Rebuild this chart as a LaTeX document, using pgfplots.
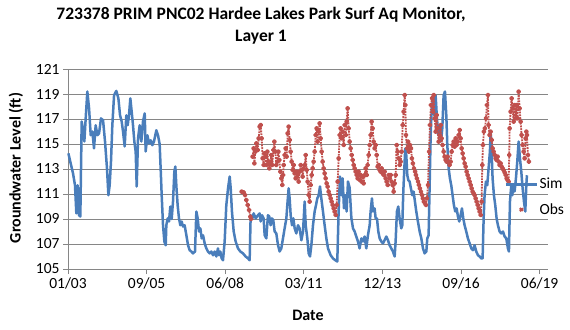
\documentclass[border=0pt]{standalone}
\usepackage{fontspec}
\setmainfont{Carlito}
\usepackage{pgfplots}
\usepackage{pgfplotstable}
\pgfplotsset{compat=1.18}
\definecolor{simblue}{HTML}{4A7EBB}
\definecolor{obsred}{HTML}{C0504D}
\definecolor{gridgray}{HTML}{868686}
\pgfplotsset{
  simlegend/.style={legend image code/.code={\draw[##1] (0bp,0bp) -- (31bp,0bp);}},
  obslegend/.style={legend image code/.code={\fill[obsred] (15.5bp,0bp) circle (1.8bp);}},
}

% days since 01/01/2003, groundwater level (ft)
\pgfplotstableread{
day level
5 114.25
34 113.45
64 112.65
89 111.7
106 109.45
123 111.7
140 109.3
157 109.2
174 116.8
196 116
208 115.2
225 117.05
246 119.2
268 117.85
289 115.7
310 116
331 114.65
352 116.5
374 115.7
395 115.85
420 117.05
446 116.9
471 115.2
496 113.05
514 110.9
530 111.7
547 113.6
564 116.5
586 118.9
615 119.25
641 118.65
662 117.3
683 116.8
700 116
721 114.8
742 117.3
759 116.5
776 117.3
793 118.65
810 117.6
827 116.5
844 115.2
861 114.4
874 111.6
891 115.45
912 116.5
933 115.2
954 116.8
976 117.45
988 114.4
1010 115.7
1031 115.05
1052 115.3
1073 114.9
1094 115.2
1124 116.1
1145 115.7
1166 115
1179 113
1192 110.9
1209 108.5
1226 107.2
1243 106.9
1251 108.5
1268 109.05
1285 108.8
1302 110
1319 109
1336 110.4
1353 112.8
1366 113.2
1378 111.7
1395 110.1
1412 109.05
1429 108.5
1446 108.8
1463 108.4
1484 108.5
1506 107.7
1527 106.9
1548 106.5
1569 106.4
1590 106.25
1616 106.4
1633 109.6
1650 109.05
1667 108
1684 108.25
1701 107.45
1718 107.7
1739 107.05
1760 106.65
1781 106.4
1802 106.25
1824 106.4
1845 106.1
1866 106.4
1887 106
1908 106.65
1921 106.1
1938 106.4
1955 105.85
1972 105.7
1993 107.2
2014 110.1
2036 111.45
2057 112.4
2070 111.45
2086 109.6
2108 108
2133 107.2
2163 106.65
2193 106.4
2226 106.25
2260 106
2290 105.85
2311 105.7
2324 109.3
2345 109.05
2362 109.45
2388 109.05
2417 109.3
2438 109.45
2451 108.8
2468 109.3
2489 109.05
2502 107.7
2523 107.45
2544 109.3
2561 109.2
2578 108.5
2595 109.05
2612 108.9
2629 108
2650 107.85
2672 106.9
2693 106.4
2714 106.65
2735 107.45
2756 108.25
2778 109.05
2790 110.1
2807 111.45
2820 110.65
2833 109.3
2850 108.5
2867 109.05
2884 108.25
2905 107.85
2926 108.5
2947 108.25
2969 107.3
2990 108
3011 110.4
3024 108.5
3045 107.45
3062 106.25
3079 106
3096 106.9
3117 108.5
3138 109.6
3155 110.1
3172 110.65
3189 110.9
3206 111.6
3223 110.65
3244 109.6
3265 108.5
3287 107.45
3308 106.65
3342 106.1
3371 105.85
3401 105.7
3426 105.6
3443 109.6
3460 112.4
3477 110.9
3494 112.25
3511 109.85
3528 110.9
3545 109.6
3562 112
3583 111.5
3605 109.1
3626 108.25
3647 108
3668 107.6
3689 107.2
3710 106.65
3732 107.45
3753 107.2
3774 107.6
3795 106.65
3816 107.7
3838 108.5
3850 109.6
3867 110.65
3880 109.6
3901 109.85
3914 109.05
3931 109.05
3948 108
3965 107.45
3986 107.2
4007 107.05
4028 107.3
4050 107.6
4071 107.3
4092 106.9
4113 106.65
4134 106.4
4156 106
4168 107.2
4185 109.6
4202 110
4219 109.05
4240 108.25
4253 108.5
4266 111.2
4279 113.05
4291 114.65
4304 114.1
4317 112.5
4330 112.1
4346 112
4363 111.45
4380 110.9
4397 111.2
4414 110.4
4431 109.6
4452 108.8
4474 108
4495 107.45
4516 106.65
4537 106.25
4559 106.4
4571 107.45
4588 107.7
4601 111.7
4614 115.7
4626 117.6
4643 118.65
4660 117.3
4677 118.9
4694 117.05
4711 115.7
4728 116.5
4745 115.2
4762 116.25
4779 118.9
4796 119.2
4813 117.3
4826 114.9
4843 113.05
4859 112.25
4876 111.7
4893 110.9
4910 110.1
4927 109.6
4944 109.85
4961 109.2
4978 108.8
4995 109.3
5012 109.85
5029 109.05
5046 108.5
5067 108
5088 107.45
5110 107.05
5131 106.65
5152 106.5
5173 106.9
5194 106.4
5216 106.1
5237 106
5258 105.85
5275 105.85
5288 109.05
5300 110.9
5317 111.99
5334 111.7
5351 113.05
5368 114.4
5377 116
5389 114.4
5402 112.25
5419 110.9
5436 110.1
5453 109.05
5470 108.5
5491 108
5512 107.85
5534 108
5555 107.6
5576 107.45
5597 106.65
5610 106.4
5623 110.4
5640 111.7
5653 110.9
5665 111.7
5682 111.2
5699 112.25
5716 113.6
5733 115.2
5750 113.85
5767 112.8
5784 111.45
5801 110.4
5818 109.6
5831 111.7
5839 112.5
}\simdata

\pgfplotstableread{
day level
2210 111.19
2235 111.13
2252 110.92
2269 110.52
2286 110.12
2303 109.72
2320 109.19
2329 109.0
2340 nan
2350 113.99
2363 114.65
2371 113.45
2384 114.39
2396 115.05
2413 114.52
2426 115.45
2439 116.39
2452 116.52
2464 115.45
2477 113.85
2490 113.32
2498 114.25
2511 113.99
2524 113.32
2536 114.39
2549 113.59
2562 113.05
2575 113.59
2587 114.12
2600 113.32
2613 114.52
2625 115.19
2638 114.39
2651 113.32
2664 113.59
2676 114.39
2689 113.72
2702 112.79
2714 112.25
2727 111.72
2736 112.52
2744 113.32
2757 114.12
2770 114.65
2782 113.99
2795 115.85
2808 116.39
2820 115.32
2833 114.39
2846 113.59
2859 112.92
2871 113.32
2884 112.65
2897 112.25
2909 112.79
2922 112.52
2935 111.99
2948 112.79
2960 113.32
2973 112.92
2986 112.39
2999 113.05
3011 113.32
3024 114.12
3037 112.92
3049 111.99
3062 110.92
3075 110.39
3088 111.72
3100 112.52
3113 113.05
3126 113.59
3138 114.39
3151 115.72
3164 116.25
3177 115.19
3189 115.99
3202 116.65
3215 115.45
3227 114.39
3240 113.59
3253 113.05
3266 112.65
3278 112.25
3291 111.85
3304 111.59
3317 111.19
3329 110.92
3342 110.65
3355 110.39
3367 110.12
3380 109.85
3393 109.59
3406 109.32
3418 110.12
3431 111.99
3444 113.85
3456 115.72
3469 116.25
3482 115.45
3494 115.99
3507 114.92
3520 116.52
3533 115.72
3545 116.79
3558 117.85
3571 116.25
3584 115.19
3596 114.65
3609 114.12
3622 113.72
3634 113.32
3647 113.05
3660 112.79
3673 112.52
3685 112.25
3698 112.79
3711 112.12
3723 112.52
3736 111.99
3749 112.39
3762 111.85
3774 112.52
3787 113.05
3800 112.52
3812 113.32
3825 114.12
3838 114.92
3851 115.72
3863 116.79
3876 116.25
3889 115.19
3902 114.65
3914 114.92
3927 114.12
3940 113.19
3952 113.32
3965 112.92
3978 112.79
3991 113.05
4003 112.65
4016 112.52
4029 112.79
4041 112.25
4054 111.99
4067 111.72
4080 112.52
4092 112.25
4105 112.52
4118 111.99
4130 111.72
4143 111.19
4156 111.85
4169 112.52
4181 114.92
4194 114.39
4207 113.85
4220 113.32
4232 113.59
4245 114.39
4258 116.52
4270 117.59
4283 118.92
4292 118.12
4300 115.72
4313 114.65
4326 115.19
4338 114.39
4351 114.92
4364 114.65
4376 113.85
4389 113.45
4402 113.05
4415 112.79
4427 112.52
4440 112.25
4453 111.99
4465 111.72
4478 111.45
4491 111.19
4504 110.92
4516 110.65
4529 110.39
4542 110.25
4554 110.12
4567 110.65
4580 111.72
4593 114.39
4605 116.52
4618 118.12
4631 118.65
4643 117.59
4652 118.92
4665 117.05
4677 115.99
4690 117.32
4703 116.25
4715 115.19
4728 115.72
4741 116.52
4754 115.45
4766 114.92
4779 114.39
4792 113.99
4805 113.72
4817 113.59
4830 113.99
4843 113.59
4855 113.32
4868 113.59
4881 114.39
4894 114.92
4906 115.19
4919 114.79
4932 115.45
4944 114.92
4957 115.19
4970 115.72
4983 116.12
4995 115.45
5008 114.65
5021 114.25
5033 113.85
5046 113.45
5059 113.19
5072 112.79
5084 112.52
5097 112.25
5110 111.99
5123 111.72
5135 111.45
5148 111.19
5161 111.05
5173 110.92
5186 110.65
5199 110.39
5212 110.12
5224 109.85
5237 109.59
5250 109.32
5262 110.39
5271 113.32
5279 114.92
5292 115.99
5305 116.25
5318 117.05
5330 118.12
5343 118.92
5351 116.52
5364 115.72
5377 115.99
5390 115.32
5402 114.65
5415 114.39
5428 114.12
5441 113.85
5453 113.72
5466 113.99
5479 113.59
5491 113.32
5504 113.45
5517 113.19
5530 113.05
5542 112.92
5555 112.73
5568 112.52
5580 112.25
5593 112.12
5606 111.99
5614 114.12
5619 116.25
5631 117.59
5644 118.65
5657 117.85
5669 116.79
5682 118.12
5695 117.05
5708 118.12
5720 117.05
5733 119.19
5746 117.85
5758 116.79
5771 115.72
5784 114.92
5797 114.39
5809 113.85
5822 115.45
5831 115.99
5839 115.72
5852 114.12
5864 113.59
}\obsdata

\begin{document}
\begin{tikzpicture}[x=1bp,y=1bp]
\path[use as bounding box] (0,0) rectangle (570,329);
\begin{axis}[
  at={(68bp,60bp)}, anchor=south west,
  width=480bp, height=200bp, scale only axis,
  xmin=0, xmax=6107, ymin=105, ymax=121,
  xtick={0,1000,2000,3000,4000,5000,6000},
  xticklabels={01/03,09/05,06/08,03/11,12/13,09/16,06/19},
  ytick={105,107,109,111,113,115,117,119,121},
  axis x line*=bottom, axis y line*=left,
  axis line style={gridgray, line width=0.75bp},
  tick style={gridgray, line width=0.75bp},
  tick align=outside, major tick length=5bp,
  ymajorgrids, grid style={gridgray, line width=0.75bp},
  /pgf/number format/assume math mode=true,
  ticklabel style={font=\fontsize{15.5bp}{18bp}\selectfont},
  clip=false, unbounded coords=jump,
  legend style={at={(axis description cs:0.909,0.36)}, anchor=west,
    draw=none, fill=none, inner sep=0pt, row sep=10bp,
    font=\fontsize{15.5bp}{18bp}\selectfont,
    nodes={inner sep=1.5bp, anchor=west}},
  legend cell align=left,
]
\addplot[simblue, line width=2.5bp, line join=round, no markers, simlegend]
  table[x=day, y=level] {\simdata};
\addlegendentry{Sim}
\addplot[obsred, line width=1.8bp, line join=round, densely dotted, mark=*, mark size=1.6bp,
  mark options={solid, fill=obsred, draw=obsred}, obslegend]
  table[x=day, y=level] {\obsdata};
\addlegendentry{Obs}
\end{axis}
\node[font=\fontsize{17.5bp}{21bp}\selectfont\bfseries] at (261,314) {723378 PRIM PNC02 Hardee Lakes Park Surf Aq Monitor,};
\node[font=\fontsize{17.5bp}{21bp}\selectfont\bfseries] at (261,292) {Layer 1};
\node[font=\fontsize{16bp}{19bp}\selectfont\bfseries] at (308,14) {Date};
\node[font=\fontsize{16bp}{19bp}\selectfont\bfseries, rotate=90] at (16,161) {Groundwater Level (ft)};
\end{tikzpicture}
\end{document}
